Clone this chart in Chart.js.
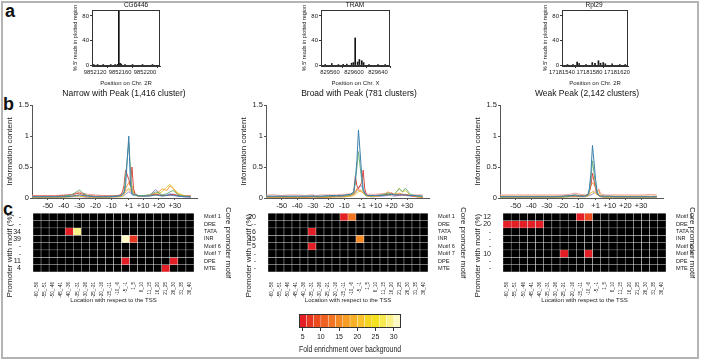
<!DOCTYPE html>
<html>
<head>
<meta charset="utf-8">
<script src="https://cdn.jsdelivr.net/npm/chart.js@4.4.1/dist/chart.umd.min.js"></script>
<style>
html, body { margin: 0; padding: 0; background: #fff; }
#fig { position: relative; width: 704px; height: 363px; overflow: hidden; font-family: 'Liberation Sans', Arial, sans-serif; }
#frame { position: absolute; left: 1px; top: 1px; width: 694px; height: 354px; border: 2px solid #b4b4b4; }
.lt { position: absolute; font-size: 18px; font-weight: bold; line-height: 18px; color: #111; }
canvas { position: absolute; }
</style>
</head>
<body>
<div id="fig">
  <div id="frame"></div>
  <div class="lt" style="left:5px;top:2px">a</div>
  <div class="lt" style="left:3px;top:95px">b</div>
  <div class="lt" style="left:3px;top:200px">c</div>

  <canvas id="a1" width="132" height="88" style="left:70px;top:0px"></canvas>
  <canvas id="a2" width="112" height="88" style="left:299px;top:0px"></canvas>
  <canvas id="a3" width="108" height="88" style="left:540px;top:0px"></canvas>

  <canvas id="b1" width="248" height="124" style="left:0px;top:88px"></canvas>
  <canvas id="b2" width="250" height="124" style="left:234px;top:88px"></canvas>
  <canvas id="b3" width="238" height="124" style="left:468px;top:88px"></canvas>

  <canvas id="h1" width="235" height="101" style="left:0px;top:205px"></canvas>
  <canvas id="h2" width="232" height="101" style="left:238px;top:205px"></canvas>
  <canvas id="h3" width="229" height="101" style="left:470px;top:205px"></canvas>

  <canvas id="cbar" width="122" height="48" style="left:290px;top:308px"></canvas>
</div>

<script>
// ==========================================
// DATOS
// ==========================================

// --- a: % de lecturas 5' por posicion ---
const A1_POS = [9852118, 9852124, 9852133, 9852145, 9852152, 9852156, 9852158, 9852160, 9852162, 9852168, 9852180, 9852196, 9852212];
const A1_VAL = [0.6, 0.4, 0.5, 0.4, 0.8, 1.2, 99, 3, 1.5, 0.6, 0.4, 0.5, 0.4];
const A1_TICKS = [9852120, 9852160, 9852200];

const A2_POS = [829552, 829563, 829574, 829582, 829588, 829596, 829599, 829602, 829606, 829609, 829613, 829616, 829625, 829640, 829652];
const A2_VAL = [0.5, 2.5, 0.6, 1.2, 1.5, 3, 4, 44, 5, 9, 7, 4, 1, 0.5, 0.4];
const A2_TICKS = [829560, 829600, 829640];

const A3_POS = [17181548, 17181556, 17181562, 17181565, 17181575, 17181584, 17181588, 17181593, 17181596, 17181600, 17181603, 17181613, 17181624, 17181632];
const A3_VAL = [0.5, 0.8, 5, 2.5, 1, 4, 3, 7, 3, 4, 2, 2, 1, 1];
const A3_TICKS = [17181540, 17181580, 17181620];

const A_YTICKS = [0, 40, 80];

// --- b: contenido de informacion ---
const B_POS = [-60, -55, -50, -45, -40, -35, -32, -30, -28, -25,
               -20, -15, -12, -9, -6, -4, -3, -2, -1, 1,
               2, 3, 4, 5, 7, 10, 14, 18, 20, 22,
               25, 27, 29, 32, 36, 40];
const B_TICKS = [-50, -40, -30, -20, -10, 1, 10, 20, 30];
const B_YTICKS = [0, 0.5, 1, 1.5];
const B_COLORS = ['#3d7fae', '#6db27c', '#d9473f', '#f2a03c', '#e3cf45', '#9b8fd6', '#f0a49c'];

const N_TEAL   = [0.02,0.02,0.02,0.02,0.02,0.03,0.04,0.05,0.04,0.03, 0.02,0.02,0.02,0.02,0.03,0.04,0.05,0.08,0.2,1.0, 0.25,0.06,0.04,0.05,0.03,0.03,0.03,0.05,0.04,0.03, 0.04,0.05,0.04,0.03,0.02,0.02];
const N_GREEN  = [0.02,0.02,0.02,0.02,0.03,0.05,0.1,0.13,0.08,0.04, 0.02,0.02,0.02,0.03,0.03,0.04,0.06,0.1,0.35,0.9, 0.5,0.12,0.05,0.06,0.04,0.04,0.05,0.1,0.08,0.05, 0.07,0.1,0.12,0.05,0.03,0.02];
const N_RED    = [0.03,0.03,0.03,0.03,0.04,0.05,0.07,0.08,0.06,0.04, 0.03,0.03,0.03,0.03,0.04,0.05,0.1,0.2,0.45,0.3, 0.2,0.5,0.15,0.06,0.04,0.04,0.04,0.06,0.05,0.04, 0.04,0.05,0.06,0.04,0.03,0.03];
const N_ORANGE = [0.01,0.01,0.01,0.01,0.02,0.03,0.04,0.05,0.03,0.02, 0.01,0.01,0.02,0.02,0.02,0.03,0.05,0.08,0.15,0.25, 0.2,0.15,0.08,0.05,0.03,0.03,0.05,0.08,0.1,0.15, 0.12,0.2,0.15,0.06,0.03,0.02];
const N_YELLOW = [0.01,0.01,0.01,0.01,0.01,0.02,0.03,0.03,0.02,0.02, 0.01,0.01,0.01,0.02,0.02,0.02,0.03,0.05,0.1,0.15, 0.12,0.2,0.1,0.04,0.03,0.03,0.04,0.06,0.08,0.1, 0.18,0.22,0.16,0.08,0.04,0.02];
const N_PURPLE = [0.01,0.01,0.01,0.01,0.01,0.02,0.02,0.02,0.02,0.01, 0.01,0.01,0.01,0.02,0.02,0.02,0.03,0.04,0.06,0.1, 0.08,0.06,0.1,0.06,0.03,0.03,0.04,0.14,0.08,0.04, 0.05,0.07,0.06,0.03,0.02,0.01];
const N_SALMON = [0.04,0.04,0.04,0.04,0.05,0.06,0.08,0.1,0.08,0.06, 0.05,0.04,0.04,0.04,0.04,0.05,0.06,0.08,0.12,0.15, 0.1,0.08,0.06,0.05,0.04,0.04,0.04,0.05,0.05,0.04, 0.04,0.05,0.05,0.04,0.04,0.04];

const BR_TEAL   = [0.03,0.03,0.03,0.03,0.03,0.03,0.03,0.03,0.03,0.03, 0.04,0.04,0.04,0.05,0.06,0.1,0.3,0.6,1.1,0.4, 0.15,0.08,0.05,0.04,0.04,0.04,0.04,0.05,0.06,0.05, 0.05,0.05,0.05,0.04,0.04,0.03];
const BR_GREEN  = [0.02,0.02,0.02,0.02,0.02,0.02,0.03,0.03,0.02,0.02, 0.03,0.03,0.03,0.04,0.05,0.08,0.25,0.5,0.75,0.3, 0.12,0.06,0.04,0.04,0.03,0.04,0.05,0.08,0.06,0.06, 0.15,0.1,0.16,0.06,0.03,0.02];
const BR_RED    = [0.02,0.02,0.02,0.02,0.02,0.02,0.02,0.03,0.02,0.02, 0.02,0.03,0.03,0.04,0.05,0.08,0.35,0.2,0.15,0.25, 0.45,0.15,0.06,0.04,0.04,0.04,0.05,0.06,0.08,0.05, 0.05,0.05,0.05,0.04,0.03,0.02];
const BR_ORANGE = [0.01,0.01,0.01,0.01,0.01,0.01,0.02,0.02,0.01,0.01, 0.02,0.02,0.02,0.03,0.04,0.06,0.1,0.15,0.12,0.1, 0.08,0.06,0.04,0.03,0.03,0.03,0.04,0.1,0.06,0.05, 0.08,0.06,0.05,0.04,0.02,0.01];
const BR_YELLOW = [0.01,0.01,0.01,0.01,0.01,0.01,0.01,0.02,0.01,0.01, 0.01,0.02,0.02,0.02,0.03,0.04,0.06,0.08,0.1,0.12, 0.08,0.05,0.03,0.03,0.02,0.03,0.04,0.05,0.05,0.06, 0.16,0.1,0.12,0.05,0.02,0.01];
const BR_PURPLE = [0.01,0.01,0.01,0.01,0.01,0.01,0.01,0.01,0.01,0.01, 0.01,0.02,0.02,0.02,0.03,0.05,0.08,0.12,0.18,0.2, 0.12,0.06,0.04,0.03,0.02,0.02,0.03,0.04,0.04,0.03, 0.04,0.05,0.04,0.03,0.02,0.01];
const BR_SALMON = [0.05,0.05,0.04,0.05,0.05,0.04,0.05,0.05,0.04,0.05, 0.05,0.05,0.06,0.06,0.07,0.08,0.1,0.12,0.14,0.12, 0.1,0.08,0.07,0.06,0.06,0.06,0.07,0.08,0.08,0.06, 0.06,0.06,0.06,0.05,0.05,0.05];

const W_TEAL   = [0.02,0.02,0.02,0.02,0.02,0.02,0.02,0.02,0.02,0.02, 0.03,0.04,0.05,0.03,0.03,0.05,0.15,0.4,0.85,0.3, 0.1,0.05,0.03,0.03,0.03,0.03,0.02,0.02,0.02,0.02, 0.02,0.02,0.02,0.02,0.02,0.02];
const W_GREEN  = [0.02,0.02,0.02,0.02,0.02,0.02,0.02,0.02,0.02,0.02, 0.02,0.03,0.04,0.03,0.03,0.04,0.1,0.3,0.6,0.2, 0.08,0.04,0.03,0.03,0.02,0.02,0.02,0.02,0.02,0.02, 0.02,0.02,0.02,0.02,0.02,0.02];
const W_RED    = [0.02,0.02,0.02,0.02,0.02,0.02,0.02,0.02,0.02,0.02, 0.02,0.03,0.03,0.03,0.03,0.04,0.1,0.2,0.4,0.15, 0.06,0.04,0.03,0.02,0.02,0.02,0.02,0.02,0.02,0.02, 0.02,0.02,0.02,0.02,0.02,0.02];
const W_ORANGE = [0.03,0.03,0.03,0.03,0.03,0.03,0.03,0.03,0.03,0.03, 0.03,0.04,0.05,0.04,0.04,0.05,0.1,0.2,0.25,0.18, 0.1,0.12,0.05,0.04,0.03,0.03,0.03,0.03,0.03,0.03, 0.03,0.03,0.03,0.03,0.03,0.03];
const W_YELLOW = [0.01,0.01,0.01,0.01,0.01,0.01,0.01,0.01,0.01,0.01, 0.01,0.02,0.02,0.02,0.02,0.03,0.05,0.08,0.1,0.08, 0.05,0.04,0.02,0.02,0.01,0.01,0.01,0.01,0.01,0.01, 0.01,0.01,0.01,0.01,0.01,0.01];
const W_PURPLE = [0.01,0.01,0.01,0.01,0.01,0.01,0.01,0.01,0.01,0.01, 0.01,0.02,0.02,0.02,0.02,0.03,0.04,0.05,0.06,0.1, 0.06,0.04,0.02,0.02,0.01,0.01,0.01,0.01,0.01,0.01, 0.01,0.01,0.01,0.01,0.01,0.01];
const W_SALMON = [0.05,0.05,0.05,0.05,0.05,0.05,0.05,0.05,0.05,0.05, 0.05,0.06,0.08,0.06,0.05,0.06,0.07,0.08,0.1,0.12, 0.1,0.15,0.08,0.06,0.05,0.05,0.05,0.05,0.05,0.05, 0.05,0.05,0.05,0.05,0.06,0.05];

// --- c: enriquecimiento de motivos ---
const COLS = ['-60_-56', '-55_-51', '-50_-46', '-45_-41', '-40_-36', '-35_-31', '-30_-26', '-25_-21', '-20_-16', '-15_-11',
              '-10_-6', '-5_-1', '1_5', '6_10', '11_15', '16_20', '21_25', '26_30', '31_35', '36_40'];
const MOTIFS = ['Motif 1', 'DRE', 'TATA', 'INR', 'Motif 6', 'Motif 7', 'DPE', 'MTE'];

const H1_PCT = ['-', '-', '34', '39', '-', '-', '11', '4'];
const H2_PCT = ['20', '-', '6', '15', '5', '-', '-', '-'];
const H3_PCT = ['12', '20', '-', '-', '-', '10', '-', '-'];

// [motivo, ventana, enriquecimiento]
const H1_CELLS = [['TATA', '-40_-36', 5], ['TATA', '-35_-31', 28], ['INR', '-5_-1', 31], ['INR', '1_5', 6],
                  ['DPE', '-5_-1', 5], ['DPE', '26_30', 5], ['MTE', '21_25', 5]];
const H2_CELLS = [['Motif 1', '-15_-11', 5], ['Motif 1', '-10_-6', 13], ['TATA', '-35_-31', 5],
                  ['INR', '-5_-1', 14], ['Motif 6', '-35_-31', 5]];
const H3_CELLS = [['Motif 1', '-15_-11', 5], ['Motif 1', '-10_-6', 8],
                  ['DRE', '-60_-56', 5], ['DRE', '-55_-51', 5], ['DRE', '-50_-46', 5], ['DRE', '-45_-41', 5], ['DRE', '-40_-36', 5],
                  ['Motif 7', '-25_-21', 5], ['Motif 7', '-10_-6', 5]];

// barra de color
const CB_MIN = 4;
const CB_STEP = 2;
const CB_COLORS = ['#e31e24', '#e7361f', '#eb4c1f', '#ee6120', '#f17522', '#f48924', '#f69d25',
                   '#f8b026', '#f9c22a', '#f6d520', '#f4e21e', '#f7ea50', '#faf289', '#fdf9c6'];
const CB_TICKS = [5, 10, 15, 20, 25, 30];

// ==========================================
// AJUSTES GENERALES
// ==========================================
Chart.defaults.font.family = "'Liberation Sans', Arial, sans-serif";
Chart.defaults.color = '#222';

const INK = '#333';

// marco alrededor del area de datos
const framePlugin = {
    id: 'frame',
    afterDatasetsDraw(chart) {
        const { ctx, chartArea: a } = chart;
        ctx.save();
        ctx.strokeStyle = INK;
        ctx.lineWidth = 1;
        ctx.strokeRect(Math.round(a.left) + 0.5, Math.round(a.top) + 0.5,
                       Math.round(a.right - a.left) - 1, Math.round(a.bottom - a.top) - 1);
        ctx.restore();
    }
};

// titulo vertical izquierdo, centrado un poco mas abajo que el area de datos
const sideTitlePlugin = {
    id: 'sideTitle',
    afterDraw(chart, args, opts) {
        const { ctx, chartArea: a } = chart;
        ctx.save();
        ctx.translate(opts.x, (a.top + a.bottom) / 2 + opts.dy);
        ctx.rotate(-Math.PI / 2);
        ctx.font = "8px 'Liberation Sans', Arial, sans-serif";
        ctx.fillStyle = '#222';
        ctx.textAlign = 'center';
        ctx.textBaseline = 'middle';
        ctx.fillText(opts.text, 0, 0);
        ctx.restore();
    }
};

// eje vacio a la derecha para centrar el titulo
function padAxis(w) {
    return {
        position: 'right', display: true,
        ticks: { display: false }, grid: { display: false }, border: { display: false },
        afterFit: s => { s.width = w; }
    };
}

const baseOpts = {
    responsive: false,
    animation: false,
    events: []
};

// ==========================================
// a: HISTOGRAMAS
// ==========================================
function readsChart(id, title, xTitle, pos, vals, ticks, xMin, xMax, padRight) {
    new Chart(document.getElementById(id), {
        type: 'bar',
        data: {
            datasets: [{
                data: pos.map((x, i) => ({ x: x, y: vals[i] })),
                backgroundColor: '#111',
                barThickness: 1
            }]
        },
        options: {
            ...baseOpts,
            plugins: {
                legend: { display: false },
                tooltip: { enabled: false },
                title: { display: true, text: title, font: { size: 6.5, weight: 'normal' }, color: '#111', padding: { top: 1, bottom: 1.2 } }
            },
            scales: {
                x: {
                    type: 'linear', min: xMin, max: xMax, offset: false,
                    afterBuildTicks: ax => { ax.ticks = ticks.map(v => ({ value: v })); },
                    ticks: { callback: v => String(v), font: { size: 5.8 }, maxRotation: 0, autoSkip: false, padding: 1 },
                    grid: { drawOnChartArea: false, tickLength: 2, color: INK },
                    border: { color: INK },
                    title: { display: true, text: xTitle, font: { size: 6 }, padding: { top: 0, bottom: 1 } },
                    afterFit: s => { s.height = 22; }
                },
                y: {
                    min: -1.5, max: 89.5,
                    afterBuildTicks: ax => { ax.ticks = A_YTICKS.map(v => ({ value: v })); },
                    ticks: { font: { size: 6 }, padding: 1 },
                    grid: { drawOnChartArea: false, tickLength: 2, color: INK },
                    border: { color: INK },
                    title: { display: true, text: "% 5' reads in plotted region", font: { size: 5.5 }, padding: { top: 2, bottom: 0 } },
                    afterFit: s => { s.width = 22; }
                },
                pad: padAxis(padRight)
            }
        },
        plugins: [framePlugin]
    });
}

readsChart('a1', 'CG6446', 'Position on Chr. 2R', A1_POS, A1_VAL, A1_TICKS, 9852115, 9852224, 42);
readsChart('a2', 'TRAM', 'Position on Chr. X', A2_POS, A2_VAL, A2_TICKS, 829545, 829660, 21);
readsChart('a3', 'Rpl29', 'Position on Chr. 2R', A3_POS, A3_VAL, A3_TICKS, 17181540, 17181636, 20);

// ==========================================
// b: CONTENIDO DE INFORMACION
// ==========================================
function infoChart(id, title, series, padRight) {
    new Chart(document.getElementById(id), {
        type: 'line',
        data: {
            datasets: series.map((vals, k) => ({
                data: B_POS.map((x, i) => ({ x: x, y: vals[i] })),
                borderColor: B_COLORS[k],
                borderWidth: 1,
                pointRadius: 0,
                tension: 0,
                fill: false
            }))
        },
        options: {
            ...baseOpts,
            plugins: {
                legend: { display: false },
                tooltip: { enabled: false },
                title: { display: true, text: title, font: { size: 8.5, weight: 'normal' }, color: '#111', padding: { top: 1, bottom: 6 } }
            },
            scales: {
                x: {
                    type: 'linear', min: -60, max: 44,
                    afterBuildTicks: ax => { ax.ticks = B_TICKS.map(v => ({ value: v })); },
                    ticks: { callback: v => (v > 0 ? '+' + v : String(v)), font: { size: 7.5 }, maxRotation: 0, autoSkip: false, padding: 1 },
                    grid: { drawOnChartArea: false, tickLength: 2, color: '#555' },
                    border: { color: '#555' },
                    afterFit: s => { s.height = 14; }
                },
                y: {
                    min: 0, max: 1.5,
                    afterBuildTicks: ax => { ax.ticks = B_YTICKS.map(v => ({ value: v })); },
                    ticks: { callback: v => String(v), font: { size: 7.5 }, padding: 1, autoSkip: false },
                    grid: { drawOnChartArea: false, tickLength: 2, color: '#555' },
                    border: { color: '#555' },
                    title: { display: true, text: 'Information content', font: { size: 8 }, padding: { top: 5, bottom: 0 } },
                    afterFit: s => { s.width = 32; }
                },
                pad: padAxis(padRight)
            }
        }
    });
}

infoChart('b1', 'Narrow with Peak (1,416 cluster)',
    [N_TEAL, N_GREEN, N_RED, N_ORANGE, N_YELLOW, N_PURPLE, N_SALMON], 51);
infoChart('b2', 'Broad with Peak (781 clusters)',
    [BR_TEAL, BR_GREEN, BR_RED, BR_ORANGE, BR_YELLOW, BR_PURPLE, BR_SALMON], 55);
infoChart('b3', 'Weak Peak (2,142 clusters)',
    [W_TEAL, W_GREEN, W_RED, W_ORANGE, W_YELLOW, W_PURPLE, W_SALMON], 43);

// ==========================================
// c: MAPAS DE CALOR
// ==========================================
function heatColor(v) {
    if (!v) return '#000';
    const i = Math.floor((v - CB_MIN) / CB_STEP);
    return CB_COLORS[Math.max(0, Math.min(CB_COLORS.length - 1, i))];
}

function heatChart(id, cells, pct, leftW, rightW, titleX) {
    const grid = MOTIFS.map(() => COLS.map(() => 0));
    cells.forEach(([m, c, v]) => { grid[MOTIFS.indexOf(m)][COLS.indexOf(c)] = v; });

    const rowTicks = ax => { ax.ticks = MOTIFS.map((_, i) => ({ value: i + 0.5 })); };

    new Chart(document.getElementById(id), {
        type: 'bar',
        data: {
            labels: COLS,
            datasets: MOTIFS.map((m, r) => ({
                data: COLS.map(() => [r, r + 1]),
                backgroundColor: grid[r].map(heatColor),
                borderColor: '#e6e6e6',
                borderWidth: 0.5,
                borderSkipped: false,
                barPercentage: 1,
                categoryPercentage: 1,
                grouped: false
            }))
        },
        options: {
            ...baseOpts,
            layout: { padding: { top: 8 } },
            plugins: {
                legend: { display: false },
                tooltip: { enabled: false },
                sideTitle: { text: 'Promoter with motif (%)', x: titleX, dy: 13 }
            },
            scales: {
                x: {
                    ticks: { font: { size: 4.6 }, minRotation: 90, maxRotation: 90, autoSkip: false, padding: 2 },
                    grid: { display: false },
                    border: { display: false },
                    title: { display: true, text: 'Location with respect to the TSS', font: { size: 6 }, padding: { top: 0, bottom: 2 } },
                    afterFit: s => { s.height = 34; }
                },
                y: {
                    min: 0, max: 8, reverse: true,
                    afterBuildTicks: rowTicks,
                    ticks: { callback: v => pct[Math.floor(v)], font: { size: 7 }, padding: 4, autoSkip: false },
                    grid: { display: false },
                    border: { display: false },
                    afterFit: s => { s.width = leftW; }
                },
                y2: {
                    position: 'right',
                    min: 0, max: 8, reverse: true,
                    afterBuildTicks: rowTicks,
                    ticks: { callback: v => MOTIFS[Math.floor(v)], font: { size: 5.6 }, padding: 2, autoSkip: false },
                    grid: { display: false },
                    border: { display: false },
                    title: { display: true, text: 'Core promoter motif', font: { size: 8 }, padding: { top: 2, bottom: 0 } },
                    afterFit: s => { s.width = rightW; }
                }
            }
        },
        plugins: [sideTitlePlugin]
    });
}

heatChart('h1', H1_CELLS, H1_PCT, 33, 41, 10);
heatChart('h2', H2_CELLS, H2_PCT, 30, 42, 11);
heatChart('h3', H3_CELLS, H3_PCT, 33, 33, 8);

// ==========================================
// BARRA DE COLOR
// ==========================================
new Chart(document.getElementById('cbar'), {
    type: 'bar',
    data: {
        labels: [''],
        datasets: CB_COLORS.map((c, i) => ({
            data: [[CB_MIN + i * CB_STEP, CB_MIN + (i + 1) * CB_STEP]],
            backgroundColor: c,
            borderColor: 'rgba(255,255,255,0.45)',
            borderWidth: 0.5,
            borderSkipped: false,
            barPercentage: 1,
            categoryPercentage: 1,
            grouped: false
        }))
    },
    options: {
        ...baseOpts,
        indexAxis: 'y',
        layout: { padding: { top: 6, left: 9, right: 11 } },
        plugins: { legend: { display: false }, tooltip: { enabled: false } },
        scales: {
            x: {
                type: 'linear',
                min: CB_MIN, max: CB_MIN + CB_COLORS.length * CB_STEP,
                afterBuildTicks: ax => { ax.ticks = CB_TICKS.map(v => ({ value: v })); },
                ticks: { callback: v => String(v), font: { size: 7 }, maxRotation: 0, padding: 2 },
                grid: { drawOnChartArea: false, tickLength: 3, color: INK },
                border: { display: false },
                title: { display: true, text: 'Fold enrichment over background', font: { size: 8.5 }, padding: { top: 0, bottom: 1 } },
                afterFit: s => { s.height = 28; }
            },
            y: { display: false }
        }
    },
    plugins: [framePlugin]
});
</script>
</body>
</html>
